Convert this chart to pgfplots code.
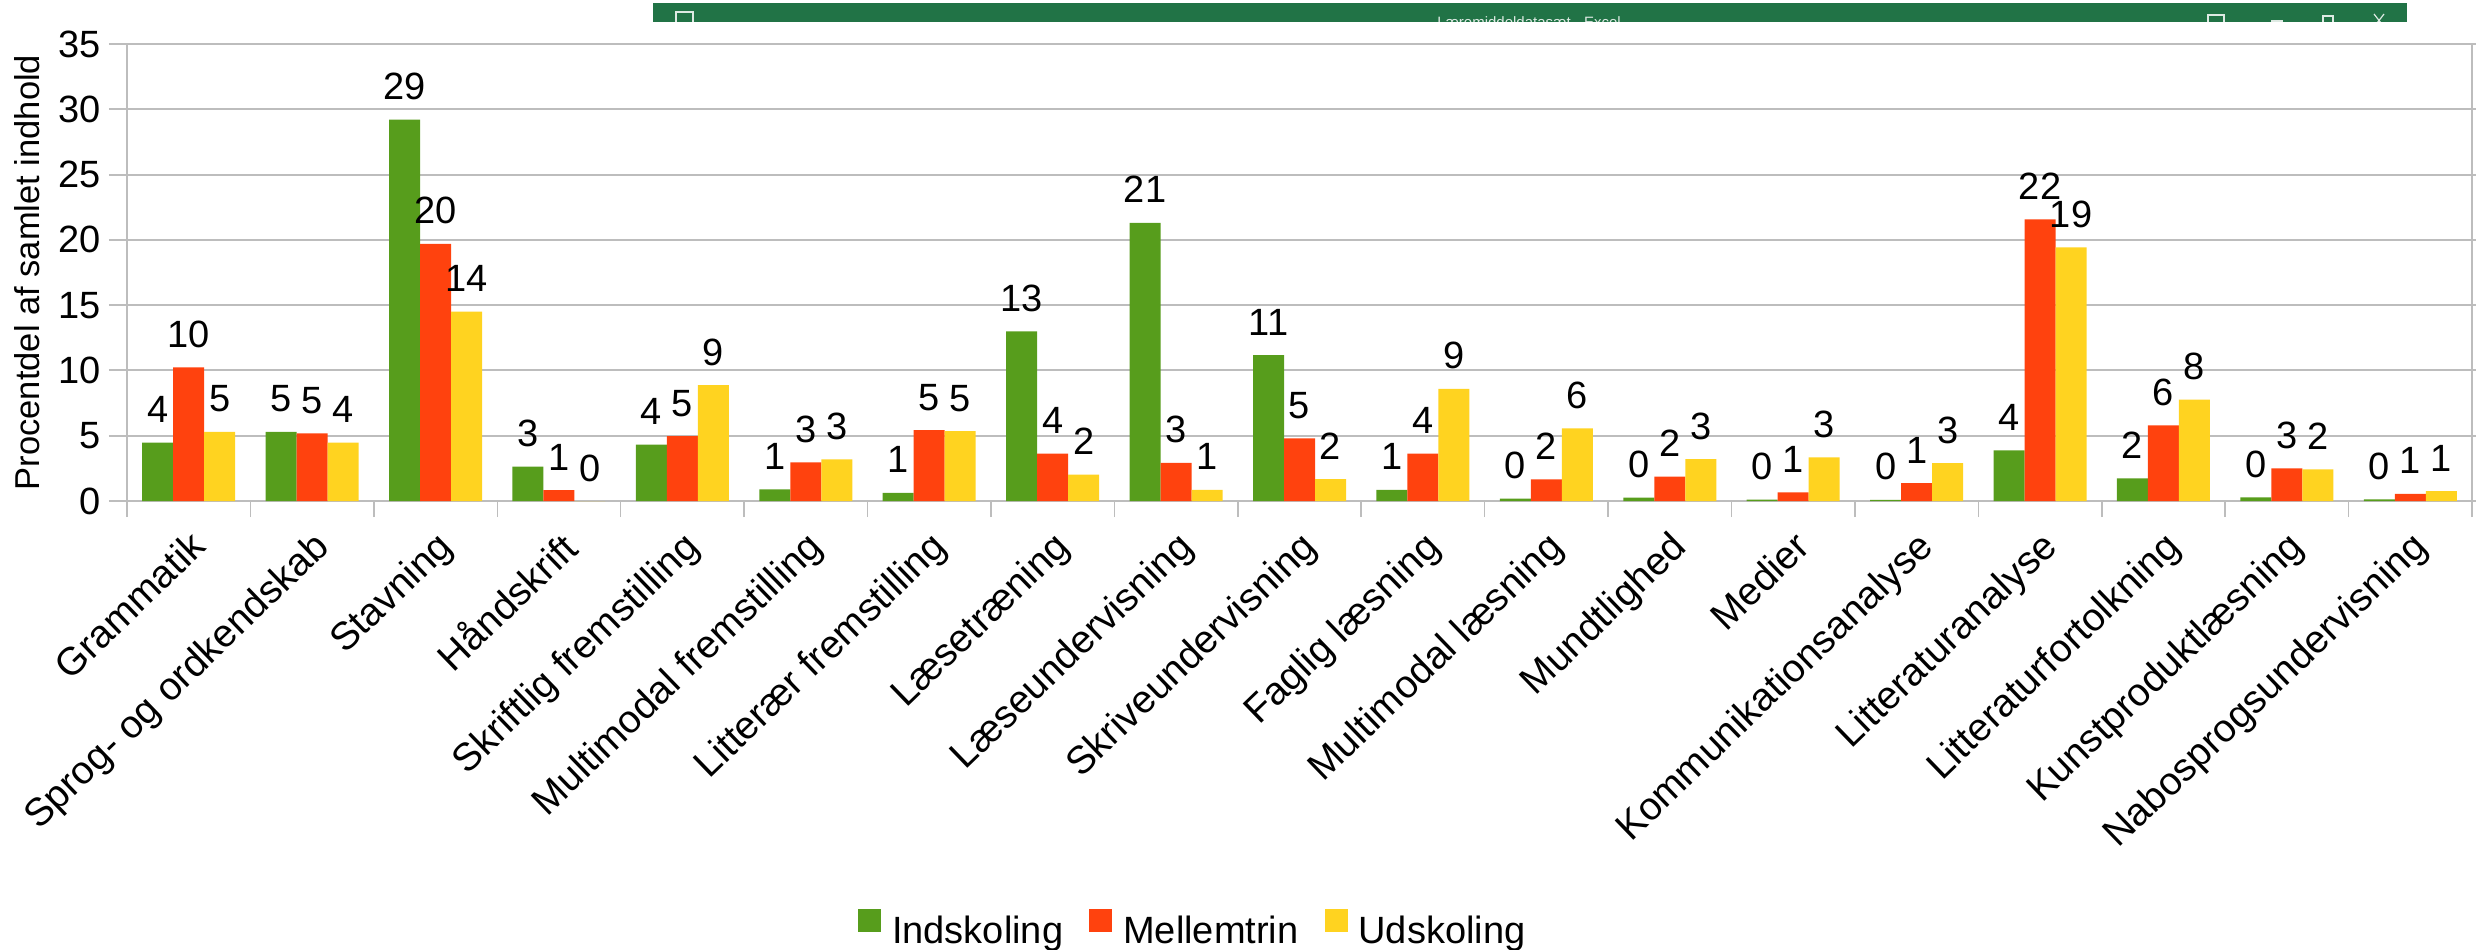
\documentclass[border=0pt]{standalone}
\usepackage{pgfplots}
\usepackage{fontspec}
\setmainfont{Liberation Sans}
\pgfplotsset{compat=1.18}
\definecolor{gA}{HTML}{579D1C}
\definecolor{oA}{HTML}{FF420E}
\definecolor{yA}{HTML}{FFD320}
\definecolor{gridc}{HTML}{BDBDBD}
\definecolor{xl}{HTML}{217346}
\newcommand{\bigf}{\fontsize{38}{44}\selectfont}
\begin{document}
\begin{tikzpicture}[x=1pt,y=1pt]
\path[use as bounding box] (-127,-449) rectangle (2349,501);
\fill[xl] (526,479) rectangle (2280,498);
\begin{scope}
\clip (526,479) rectangle (2280,498);
\draw[white!85!xl,line width=1.2pt] (549,475) rectangle (566,489);
\draw[white!85!xl,line width=1.2pt] (2081,474) rectangle (2097,486);
\draw[white!85!xl,line width=1.2pt] (2144,480) -- (2156,480);
\draw[white!85!xl,line width=1.2pt] (2196,474) rectangle (2206,485);
\draw[white!85!xl,line width=1.2pt] (2247,474) -- (2257,487) (2257,474) -- (2247,487);
\node[white!85!xl,font=\fontsize{15}{18}\selectfont,anchor=base,inner sep=0pt] at (1402,473) {Læremiddeldatasæt - Excel};
\end{scope}
\begin{axis}[
  at={(0pt,0pt)}, anchor=south west,
  scale only axis, width=2345pt, height=457pt,
  ybar=0pt, bar width=31pt,
  xmin=-0.5, xmax=18.5, ymin=0, ymax=35,
  ytick={0,5,...,35},
  xtick={0,...,18},
  minor xtick={-0.5,0.5,...,18.5},
  xticklabels={Grammatik,Sprog- og ordkendskab,Stavning,Håndskrift,Skriftlig fremstilling,Multimodal fremstilling,Litterær fremstilling,Læsetræning,Læseundervisning,Skriveundervisning,Faglig læsning,Multimodal læsning,Mundtlighed,Medier,Kommunikationsanalyse,Litteraturanalyse,Litteraturfortolkning,Kunstproduktlæsning,Nabosprogsundervisning},
  major x tick style={draw=none},
  minor tick length=16pt,
  tick align=outside,
  xtick pos=bottom,
  major tick length=18pt,
  axis line style={gridc,line width=1.5pt},
  every tick/.style={gridc,line width=1.5pt},
  ymajorgrids,
  grid style={gridc,line width=2pt},
  ytick style={gridc,line width=2pt},
  tick label style={font=\bigf},
  /pgf/number format/assume math mode=true,
  yticklabel style={xshift=-5pt},
  xticklabel style={font=\fontsize{39}{45}\selectfont,rotate=44,anchor=north east,xshift=-4pt,yshift=-3pt},
  ylabel={Procentdel af samlet indhold},
  ylabel style={font=\fontsize{34.5}{41}\selectfont,at={(axis description cs:0,0.5)},anchor=center,yshift=100pt,xshift=0pt},
  nodes near coords,
  point meta=explicit symbolic,
  every node near coord/.append style={font=\bigf,text=black,anchor=base,inner sep=0pt,yshift=20pt},
  legend columns=-1,
  legend style={draw=none,font=\bigf,at={(0.3117,-0.934)},anchor=west,inner sep=0pt,
    /tikz/every odd column/.append style={column sep=9pt},
    /tikz/every even column/.append style={column sep=24pt}},
  legend image code/.code={\fill[#1] (0pt,-1pt) rectangle (23pt,22pt);},
]
\addplot[fill=gA,draw=none] coordinates {(0,4.47)[4] (1,5.30)[5] (2,29.2)[29] (3,2.64)[3] (4,4.32)[4] (5,0.90)[1] (6,0.62)[1] (7,13.0)[13] (8,21.3)[21] (9,11.17)[11] (10,0.85)[1] (11,0.18)[0] (12,0.26)[0] (13,0.10)[0] (14,0.08)[0] (15,3.88)[4] (16,1.73)[2] (17,0.28)[0] (18,0.13)[0]};
\addplot[fill=oA,draw=none] coordinates {(0,10.24)[10] (1,5.17)[5] (2,19.7)[20] (3,0.83)[1] (4,4.97)[5] (5,2.95)[3] (6,5.43)[5] (7,3.62)[4] (8,2.92)[3] (9,4.79)[5] (10,3.62)[4] (11,1.66)[2] (12,1.86)[2] (13,0.67)[1] (14,1.37)[1] (15,21.57)[22] (16,5.79)[6] (17,2.50)[3] (18,0.54)[1]};
\addplot[fill=yA,draw=none] coordinates {(0,5.30)[5] (1,4.47)[4] (2,14.5)[14] (3,0)[0] (4,8.87)[9] (5,3.18)[3] (6,5.35)[5] (7,2.02)[2] (8,0.85)[1] (9,1.68)[2] (10,8.59)[9] (11,5.56)[6] (12,3.20)[3] (13,3.34)[3] (14,2.90)[3] (15,19.43)[19] (16,7.76)[8] (17,2.43)[2] (18,0.75)[1]};
\legend{Indskoling,Mellemtrin,Udskoling}
\end{axis}
\end{tikzpicture}
\end{document}
